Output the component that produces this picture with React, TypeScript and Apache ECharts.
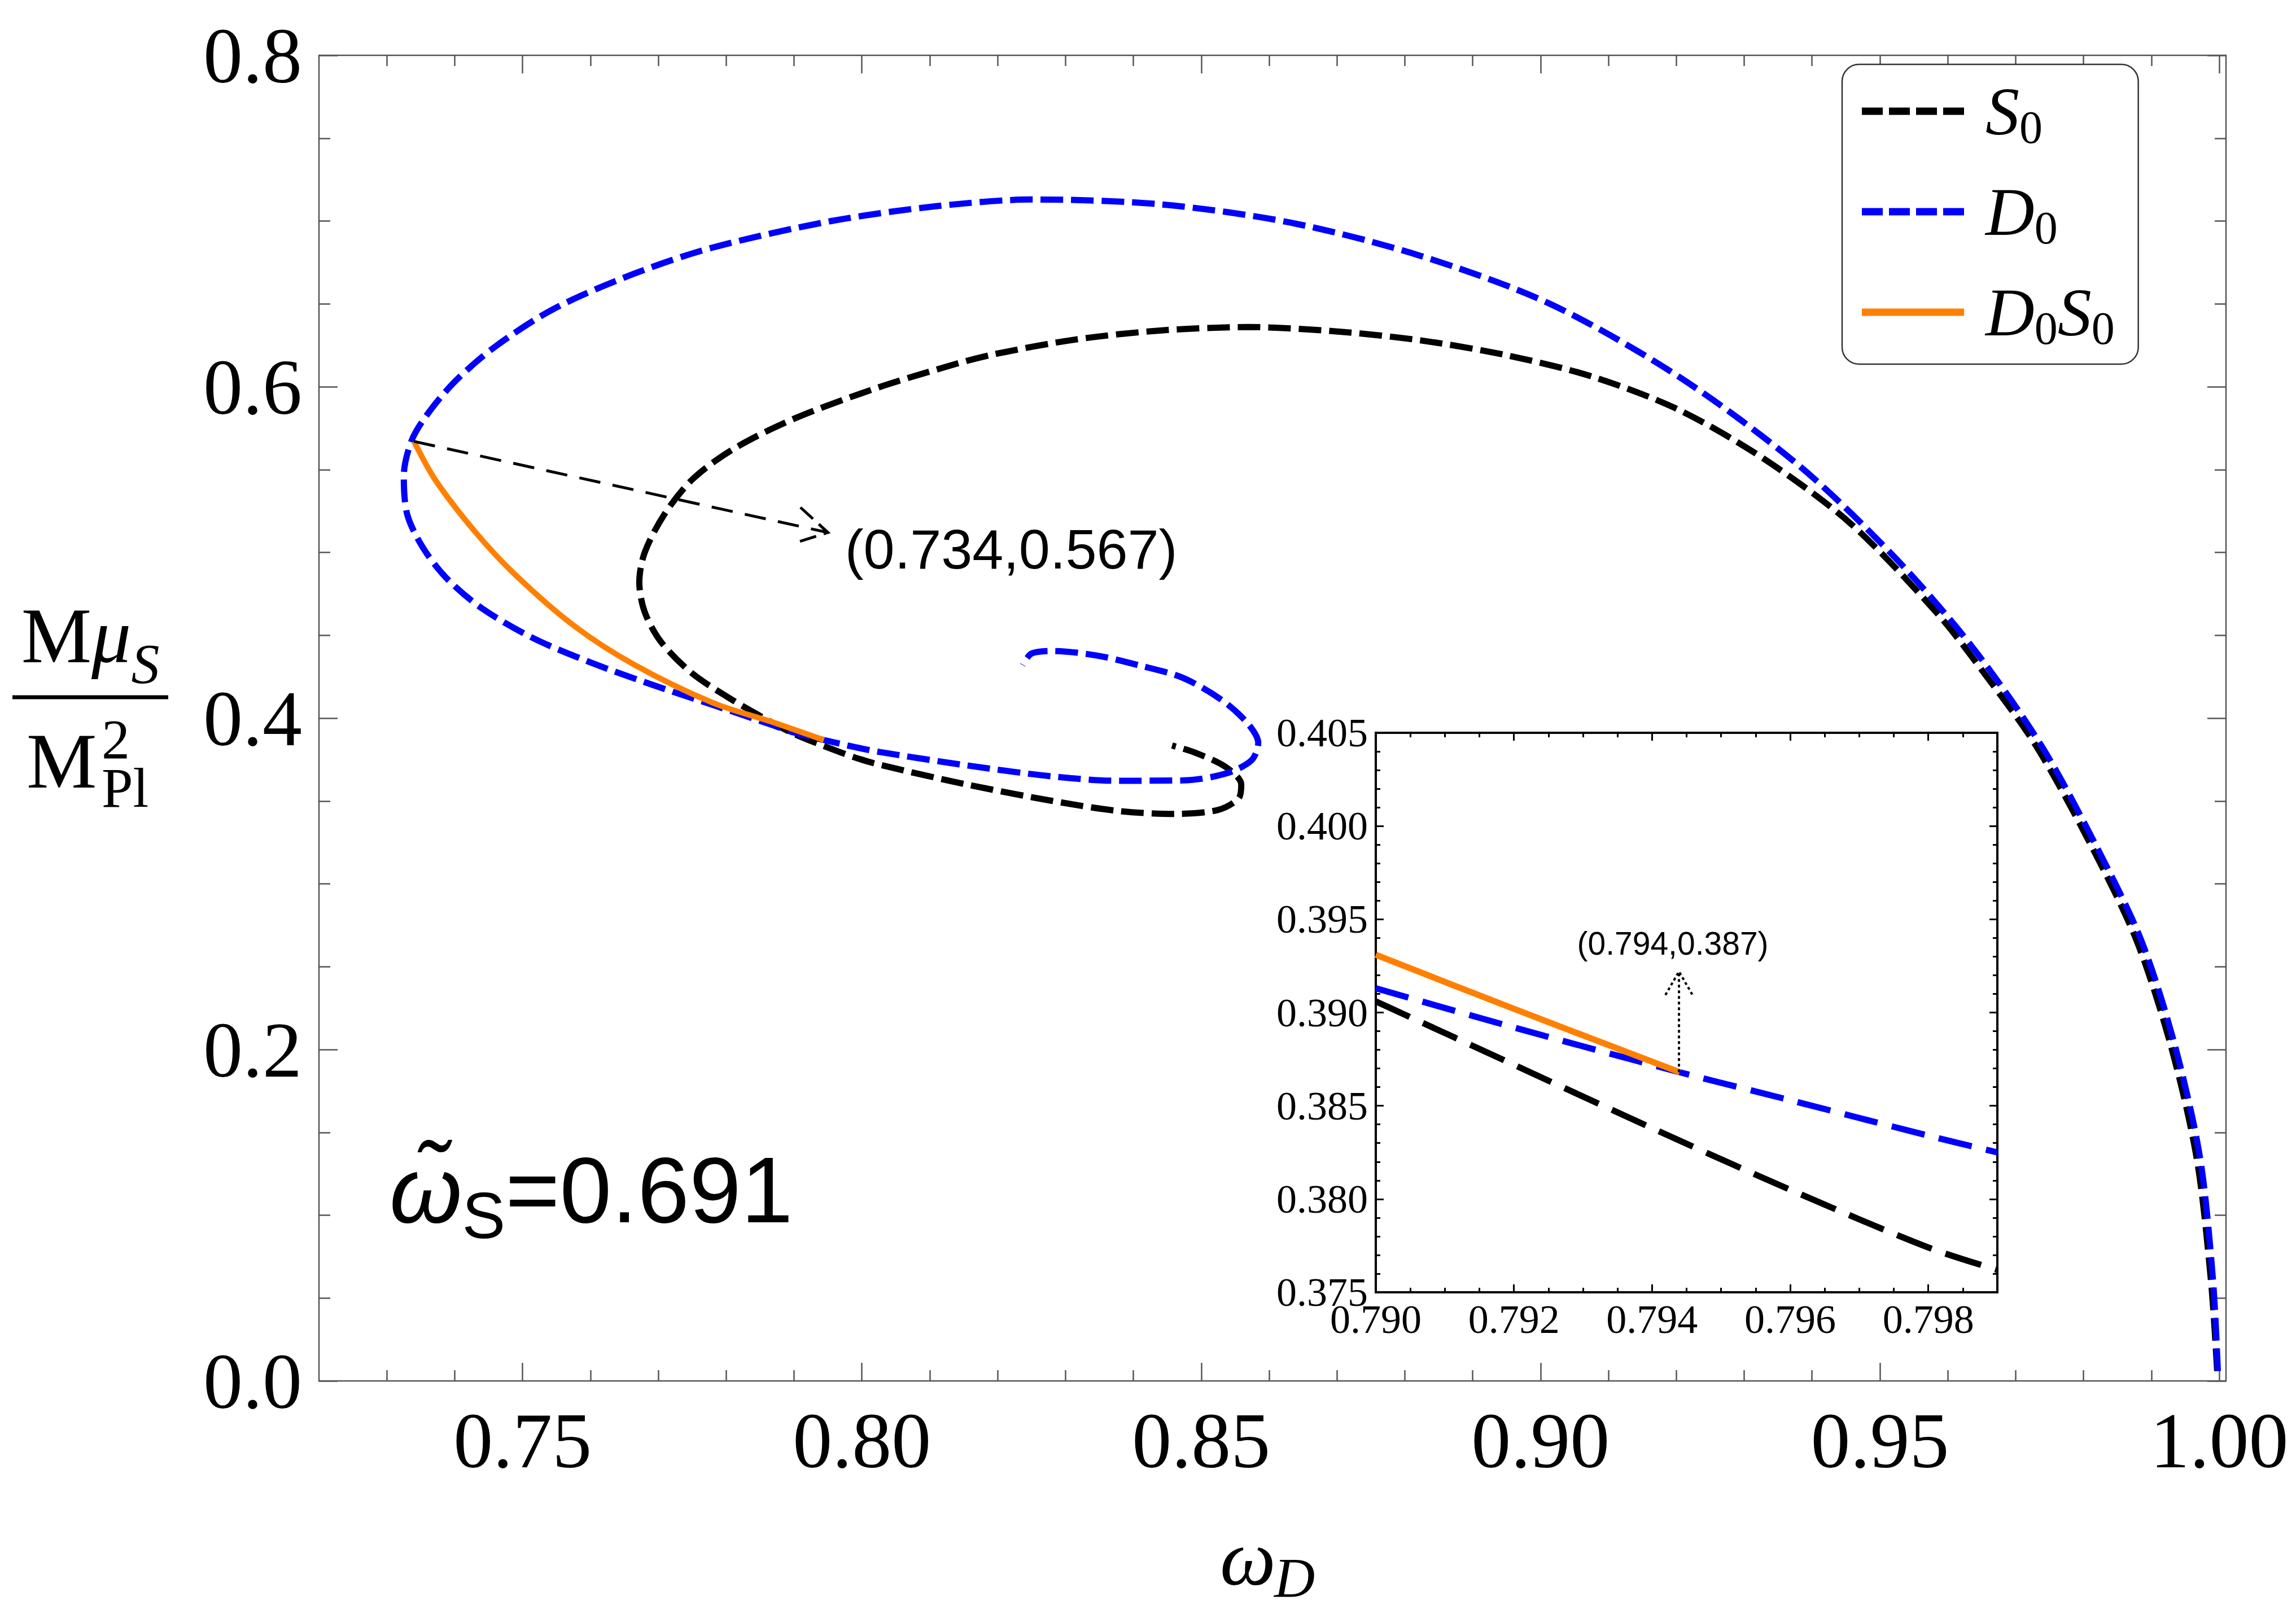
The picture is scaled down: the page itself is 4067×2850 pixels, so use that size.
import React, { useEffect, useRef } from 'react';
import * as echarts from 'echarts';

const W = 4067;
const H = 2850;
const SERIF = '"Liberation Serif", "Times New Roman", serif';
const SANS = '"Liberation Sans", Arial, sans-serif';

// ---- main curves [omega_D, M mu_S / M_Pl^2] ----
const S0 = [
  [0.9997, 0.006], [0.9988, 0.060], [0.9967, 0.134], [0.9929, 0.202], [0.9878, 0.266],
  [0.9809, 0.325], [0.9729, 0.384], [0.9652, 0.428], [0.9585, 0.463], [0.9458, 0.517],
  [0.9331, 0.556], [0.9204, 0.586], [0.9077, 0.606], [0.8950, 0.619], [0.8823, 0.628],
  [0.8696, 0.6335], [0.8569, 0.636], [0.8442, 0.634], [0.8315, 0.6285], [0.8188, 0.619],
  [0.8111, 0.6105], [0.8013, 0.598], [0.7896, 0.580], [0.7809, 0.562], [0.7750, 0.544],
  [0.7709, 0.523], [0.7680, 0.500], [0.7672, 0.482], [0.7680, 0.464], [0.7704, 0.446],
  [0.7750, 0.427], [0.7809, 0.411], [0.7867, 0.3975], [0.7900, 0.3905], [0.7940, 0.3838],
  [0.7990, 0.3762], [0.8027, 0.3718], [0.8154, 0.3600], [0.8281, 0.3500], [0.8377, 0.3440],
  [0.8460, 0.3422], [0.8524, 0.3445], [0.8555, 0.3515], [0.8559, 0.3600], [0.8536, 0.3705],
  [0.8492, 0.3790], [0.8457, 0.3835],
];
const D0 = [
  [0.9998, 0.006], [0.9991, 0.060], [0.9972, 0.134], [0.9935, 0.202], [0.9885, 0.266],
  [0.9816, 0.325], [0.9737, 0.384], [0.9636, 0.443], [0.9522, 0.497], [0.9382, 0.552],
  [0.9204, 0.606], [0.9014, 0.650], [0.8823, 0.679], [0.8632, 0.699], [0.8442, 0.710],
  [0.8252, 0.713], [0.8111, 0.709], [0.7955, 0.700], [0.7780, 0.684], [0.7663, 0.668],
  [0.7546, 0.647], [0.7459, 0.624], [0.7400, 0.603], [0.7359, 0.583], [0.7336, 0.567],
  [0.7325, 0.546], [0.7330, 0.523], [0.7353, 0.503], [0.7389, 0.484], [0.7441, 0.466],
  [0.7517, 0.448], [0.7604, 0.433], [0.7692, 0.420], [0.7780, 0.408], [0.7867, 0.396],
  [0.7900, 0.3913], [0.7944, 0.3868], [0.7990, 0.3825], [0.8027, 0.3795], [0.8154, 0.3715],
  [0.8281, 0.3648], [0.8377, 0.3622], [0.8473, 0.3624], [0.8536, 0.3665], [0.8574, 0.3745],
  [0.8584, 0.3850], [0.8568, 0.3970], [0.8530, 0.4110], [0.8473, 0.4243], [0.8409, 0.4318],
  [0.8346, 0.4378], [0.8281, 0.4405], [0.8250, 0.4390], [0.8237, 0.4320],
];
const D0S0 = [
  [0.7340, 0.567], [0.7371, 0.544], [0.7429, 0.513], [0.7488, 0.487], [0.7575, 0.456],
  [0.7663, 0.4326], [0.7780, 0.4093], [0.7867, 0.3978], [0.7900, 0.3931], [0.7944, 0.3868],
];

// ---- inset curves ----
const S0_INSET = [[0.790, 0.3906], [0.792, 0.3872], [0.794, 0.3838], [0.796, 0.3805], [0.798, 0.3774], [0.799, 0.3762]];
const D0_INSET = [[0.790, 0.3913], [0.792, 0.3892], [0.7944, 0.3868], [0.796, 0.3853], [0.798, 0.3834], [0.799, 0.3825]];
const D0S0_INSET = [[0.790, 0.3931], [0.792, 0.3902], [0.7944, 0.3868]];

// ---- axes ----
const X_MIN = 0.72;
const X_MAX = 1.001;
const Y_MIN = 0;
const Y_MAX = 0.8;
const X_MAJOR = [0.75, 0.80, 0.85, 0.90, 0.95, 1.00];
const X_MINOR = [0.73, 0.74, 0.76, 0.77, 0.78, 0.79, 0.81, 0.82, 0.83, 0.84, 0.86, 0.87, 0.88, 0.89,
  0.91, 0.92, 0.93, 0.94, 0.96, 0.97, 0.98, 0.99];
const Y_MAJOR = [0.0, 0.2, 0.4, 0.6, 0.8];
const Y_MINOR = [0.05, 0.10, 0.15, 0.25, 0.30, 0.35, 0.45, 0.50, 0.55, 0.65, 0.70, 0.75];

const IX_MIN = 0.790;
const IX_MAX = 0.799;
const IY_MIN = 0.375;
const IY_MAX = 0.405;
const IX_MAJOR = [0.790, 0.792, 0.794, 0.796, 0.798];
const IX_MINOR = [0.7905, 0.791, 0.7915, 0.7925, 0.793, 0.7935, 0.7945, 0.795, 0.7955,
  0.7965, 0.797, 0.7975, 0.7985, 0.799];
const IY_MAJOR = [0.375, 0.380, 0.385, 0.390, 0.395, 0.400, 0.405];
const IY_MINOR = [0.376, 0.377, 0.378, 0.379, 0.381, 0.382, 0.383, 0.384, 0.386, 0.387, 0.388, 0.389,
  0.391, 0.392, 0.393, 0.394, 0.396, 0.397, 0.398, 0.399, 0.401, 0.402, 0.403, 0.404];

// ---- annotations: [x0, y0, xTip, yTip, xLabel, yLabel] ----
const MAIN_ARROW = [[0.734, 0.567, 0.795, 0.512, 0.7975, 0.502]];
const MAIN_ARROW_LABEL = '(0.734,0.567)';
const INSET_ARROW = [[0.79439, 0.3868, 0.79439, 0.3922, 0.7943, 0.3937]];
const INSET_ARROW_LABEL = '(0.794,0.387)';

const NAMES = ['S0', 'D0', 'D0S0'];
const LEGEND_LABELS: Record<string, string> = {
  S0: '{it|S}{sub|0}',
  D0: '{it|D}{sub|0}',
  D0S0: '{it|D}{sub|0}{it|S}{sub|0}',
};
const COLORS: Record<string, string> = { S0: '#000000', D0: '#0000ff', D0S0: '#ff8000' };

const DASH_ICON = 'path://M0,0H37V13H0Z M48,0H85V13H48Z M96,0H133V13H96Z M144,0H181V13H144Z';

const FRAME = '#555555';

function ax(o: any) {
  return {
    type: 'value',
    gridIndex: o.grid,
    position: o.pos,
    min: o.min,
    max: o.max,
    z: o.z,
    axisLine: { show: false, onZero: false },
    splitLine: { show: false },
    axisTick: {
      show: true,
      inside: true,
      length: o.len,
      customValues: o.ticks,
      lineStyle: { color: o.color, width: o.w },
    },
    axisLabel: o.label
      ? {
          show: true,
          customValues: o.ticks,
          formatter: o.label.fmt,
          margin: o.label.margin,
          fontFamily: SERIF,
          fontSize: o.label.size,
          color: '#000',
        }
      : { show: false },
  };
}

function arrowRenderer(label: string, opt: any) {
  return (params: any, api: any) => {
    const a = api.coord([api.value(0), api.value(1)]);
    const b = api.coord([api.value(2), api.value(3)]);
    const t = api.coord([api.value(4), api.value(5)]);
    const dx = b[0] - a[0];
    const dy = b[1] - a[1];
    const len = Math.hypot(dx, dy) || 1;
    const ux = -dx / len;
    const uy = -dy / len;
    const ang = (opt.headAngle * Math.PI) / 180;
    const c = Math.cos(ang);
    const s = Math.sin(ang);
    const p1 = [b[0] + opt.head * (ux * c - uy * s), b[1] + opt.head * (ux * s + uy * c)];
    const p2 = [b[0] + opt.head * (ux * c + uy * s), b[1] + opt.head * (-ux * s + uy * c)];
    return {
      type: 'group',
      children: [
        {
          type: 'line',
          shape: { x1: a[0], y1: a[1], x2: b[0], y2: b[1] },
          style: { stroke: '#000', lineWidth: opt.width, lineDash: opt.dash, fill: null },
        },
        {
          type: 'polyline',
          shape: { points: [p1, b, p2] },
          style: { stroke: '#000', lineWidth: opt.width, lineDash: opt.headDash, fill: null },
        },
        {
          type: 'text',
          x: t[0],
          y: t[1],
          style: {
            text: label,
            fontSize: opt.fontSize,
            fontFamily: SANS,
            fill: '#000',
            align: opt.align,
            verticalAlign: 'middle',
          },
        },
      ],
    };
  };
}

function buildOption() {
  const mainData: Record<string, number[][]> = { S0, D0, D0S0 };
  const insetData: Record<string, number[][]> = { S0: S0_INSET, D0: D0_INSET, D0S0: D0S0_INSET };
  const mainDash: Record<string, any> = { S0: [40, 14], D0: [40, 14], D0S0: 'solid' };
  const insetDash: Record<string, any> = { S0: [66, 26], D0: [60, 26], D0S0: 'solid' };

  const series: any[] = [];
  NAMES.forEach((n) => {
    series.push({
      type: 'line',
      name: n,
      xAxisIndex: 0,
      yAxisIndex: 0,
      data: mainData[n],
      symbol: 'none',
      smooth: 0.3,
      z: 2,
      lineStyle: { color: COLORS[n], width: n === 'D0S0' ? 10 : 11, type: mainDash[n] },
      itemStyle: { color: COLORS[n] },
      silent: true,
    });
  });
  NAMES.forEach((n) => {
    series.push({
      type: 'line',
      name: n + ' inset',
      xAxisIndex: 4,
      yAxisIndex: 4,
      data: insetData[n],
      symbol: 'none',
      smooth: 0.3,
      z: 7,
      lineStyle: { color: COLORS[n], width: 11, type: insetDash[n] },
      itemStyle: { color: COLORS[n] },
      silent: true,
    });
  });
  series.push({
    type: 'custom',
    xAxisIndex: 0,
    yAxisIndex: 0,
    data: MAIN_ARROW,
    encode: { x: [0, 2], y: [1, 3] },
    clip: false,
    silent: true,
    z: 3,
    renderItem: arrowRenderer(MAIN_ARROW_LABEL, {
      width: 5, dash: [38, 22], headDash: [30, 14], head: 66, headAngle: 30, fontSize: 99, align: 'left',
    }),
  });
  series.push({
    type: 'custom',
    xAxisIndex: 4,
    yAxisIndex: 4,
    data: INSET_ARROW,
    encode: { x: [0, 2], y: [1, 3] },
    clip: false,
    silent: true,
    z: 8,
    renderItem: arrowRenderer(INSET_ARROW_LABEL, {
      width: 4, dash: [5, 5], headDash: [5, 5], head: 48, headAngle: 30, fontSize: 57, align: 'center',
    }),
  });

  const mainLabelX = { fmt: (v: number) => v.toFixed(2), margin: 35, size: 140 };
  const mainLabelY = { fmt: (v: number) => v.toFixed(1), margin: 30, size: 140 };
  const insetLabelX = { fmt: (v: number) => v.toFixed(3), margin: 12, size: 72 };
  const insetLabelY = { fmt: (v: number) => v.toFixed(3), margin: 14, size: 72 };

  const mx = { grid: 0, min: X_MIN, max: X_MAX, color: FRAME, w: 2.5, z: 1 };
  const my = { grid: 0, min: Y_MIN, max: Y_MAX, color: FRAME, w: 2.5, z: 1 };
  const ix = { grid: 1, min: IX_MIN, max: IX_MAX, color: '#000', w: 3, z: 6 };
  const iy = { grid: 1, min: IY_MIN, max: IY_MAX, color: '#000', w: 3, z: 6 };

  return {
    animation: false,
    backgroundColor: '#ffffff',
    grid: [
      {
        left: 565, top: 98, width: 3378, height: 2348,
        show: true, borderColor: FRAME, borderWidth: 2.5, backgroundColor: 'transparent',
        containLabel: false, outerBoundsMode: 'none', z: 0,
      },
      {
        left: 2437, top: 1298, width: 1101, height: 991,
        show: true, borderColor: '#000', borderWidth: 4, backgroundColor: '#ffffff',
        containLabel: false, outerBoundsMode: 'none', z: 5,
      },
    ],
    xAxis: [
      ax({ ...mx, pos: 'bottom', ticks: X_MAJOR, len: 32, label: mainLabelX }),
      ax({ ...mx, pos: 'bottom', ticks: X_MINOR, len: 19 }),
      ax({ ...mx, pos: 'top', ticks: X_MAJOR, len: 32 }),
      ax({ ...mx, pos: 'top', ticks: X_MINOR, len: 19 }),
      ax({ ...ix, pos: 'bottom', ticks: IX_MAJOR, len: 14, label: insetLabelX }),
      ax({ ...ix, pos: 'bottom', ticks: IX_MINOR, len: 8 }),
      ax({ ...ix, pos: 'top', ticks: IX_MAJOR, len: 14 }),
      ax({ ...ix, pos: 'top', ticks: IX_MINOR, len: 8 }),
    ],
    yAxis: [
      ax({ ...my, pos: 'left', ticks: Y_MAJOR, len: 33, label: mainLabelY }),
      ax({ ...my, pos: 'left', ticks: Y_MINOR, len: 20 }),
      ax({ ...my, pos: 'right', ticks: Y_MAJOR, len: 33 }),
      ax({ ...my, pos: 'right', ticks: Y_MINOR, len: 20 }),
      ax({ ...iy, pos: 'left', ticks: IY_MAJOR, len: 14, label: insetLabelY }),
      ax({ ...iy, pos: 'left', ticks: IY_MINOR, len: 8 }),
      ax({ ...iy, pos: 'right', ticks: IY_MAJOR, len: 14 }),
      ax({ ...iy, pos: 'right', ticks: IY_MINOR, len: 8 }),
    ],
    legend: {
      show: true,
      orient: 'vertical',
      left: 3263,
      top: 114,
      z: 10,
      selectedMode: false,
      padding: [23, 42, 23, 35],
      itemWidth: 181,
      itemHeight: 13,
      itemGap: 49,
      backgroundColor: '#ffffff',
      borderColor: '#333333',
      borderWidth: 2.5,
      borderRadius: 30,
      itemStyle: { borderWidth: 0 },
      data: [
        { name: 'S0', icon: DASH_ICON },
        { name: 'D0', icon: DASH_ICON },
        { name: 'D0S0', icon: 'rect' },
      ],
      formatter: (name: string) => LEGEND_LABELS[name] || name,
      textStyle: {
        color: '#000',
        padding: [0, 0, 0, 33],
        rich: {
          it: { fontFamily: SERIF, fontStyle: 'italic', fontSize: 120, lineHeight: 138, verticalAlign: 'middle', color: '#000' },
          sub: { fontFamily: SERIF, fontSize: 82, verticalAlign: 'bottom', color: '#000' },
        },
      },
    },
    graphic: [
      // omega-tilde_S = 0.691 (combining tilde on omega)
      {
        type: 'text', x: 690, y: 2108, z: 10, silent: true,
        style: {
          text: '{w|ω\u0303}{s|S}{n|=0.691}',
          align: 'left', verticalAlign: 'middle', fill: '#000',
          rich: {
            w: { fontFamily: SANS, fontStyle: 'italic', fontSize: 165, lineHeight: 204, verticalAlign: 'middle' },
            s: { fontFamily: SANS, fontSize: 115, verticalAlign: 'bottom' },
            n: { fontFamily: SANS, fontSize: 165, lineHeight: 204, verticalAlign: 'middle' },
          },
        },
      },
      // x-axis name
      {
        type: 'text', x: 2161, y: 2759, z: 10, silent: true,
        style: { text: 'ω', fontFamily: SERIF, fontStyle: 'italic', fontSize: 140, lineHeight: 120, align: 'left', verticalAlign: 'middle', fill: '#000' },
      },
      {
        type: 'text', x: 2257, y: 2794, z: 10, silent: true,
        style: { text: 'D', fontFamily: SERIF, fontStyle: 'italic', fontSize: 100, lineHeight: 80, align: 'left', verticalAlign: 'middle', fill: '#000' },
      },
      // y-axis name: fraction
      {
        type: 'text', x: 160, y: 1125, z: 10, silent: true,
        style: {
          text: '{m|M}{mu|μ}{s|S}',
          align: 'center', verticalAlign: 'middle', fill: '#000',
          rich: {
            m: { fontFamily: SERIF, fontSize: 140, lineHeight: 200, verticalAlign: 'middle' },
            mu: { fontFamily: SERIF, fontStyle: 'italic', fontSize: 140, lineHeight: 200, verticalAlign: 'middle' },
            s: { fontFamily: SERIF, fontStyle: 'italic', fontSize: 100, verticalAlign: 'bottom' },
          },
        },
      },
      {
        type: 'line', z: 10, silent: true,
        shape: { x1: 22, y1: 1235, x2: 298, y2: 1235 },
        style: { stroke: '#000', lineWidth: 7 },
      },
      {
        type: 'text', x: 47, y: 1347, z: 10, silent: true,
        style: { text: 'M', fontFamily: SERIF, fontSize: 140, lineHeight: 120, align: 'left', verticalAlign: 'middle', fill: '#000' },
      },
      {
        type: 'text', x: 180, y: 1352, z: 10, silent: true,
        style: { text: '2\nPl', fontFamily: SERIF, fontSize: 100, lineHeight: 86, align: 'left', verticalAlign: 'middle', fill: '#000' },
      },
    ],
    series,
  };
}

export default function App() {
  const ref = useRef<HTMLDivElement>(null);
  useEffect(() => {
    if (!ref.current) return;
    const chart = echarts.init(ref.current, null, { renderer: 'svg' });
    chart.setOption(buildOption() as any);
    return () => {
      chart.dispose();
    };
  }, []);
  return (
    <div
      ref={ref}
      style={{ position: 'absolute', left: 0, top: 0, width: W, height: H, background: '#ffffff' }}
    />
  );
}
